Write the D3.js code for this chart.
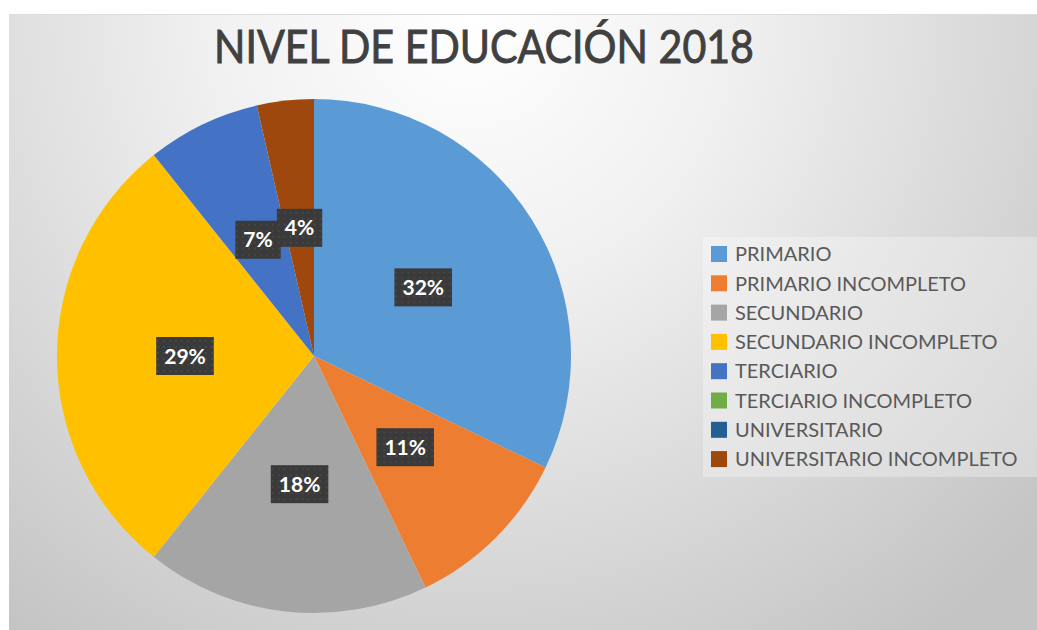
<!DOCTYPE html>
<html>
<head>
<meta charset="utf-8">
<script src="https://cdn.jsdelivr.net/npm/d3@7"></script>
<style>
    body { margin: 0; background: #fff; }
</style>
</head>
<body>
<svg id="chart" width="1037" height="630"></svg>
<script>
const titleText = 'NIVEL DE EDUCACIÓN 2018';
const categories = ['PRIMARIO', 'PRIMARIO INCOMPLETO', 'SECUNDARIO', 'SECUNDARIO INCOMPLETO',
    'TERCIARIO', 'TERCIARIO INCOMPLETO', 'UNIVERSITARIO', 'UNIVERSITARIO INCOMPLETO'];
const counts = [9, 3, 5, 8, 2, 0, 0, 1];
const colors = ['#5B9BD5', '#ED7D31', '#A5A5A5', '#FFC000', '#4472C4', '#70AD47', '#255E91', '#9E480E'];

const WIDTH = 1037, HEIGHT = 630;
const CENTER = {x: 314, y: 356};
const RADIUS = 257;

const svg = d3.select('#chart');
const defs = svg.append('defs');

// background gradient of the chart area
const grad = defs.append('radialGradient')
    .attr('id', 'bg')
    .attr('gradientUnits', 'userSpaceOnUse')
    .attr('cx', 470).attr('cy', 20).attr('r', 760);
grad.append('stop').attr('offset', '0%').attr('stop-color', '#ffffff');
grad.append('stop').attr('offset', '35%').attr('stop-color', '#f0f0f0');
grad.append('stop').attr('offset', '100%').attr('stop-color', '#c4c4c4');

// dotted texture for the label boxes
const pat = defs.append('pattern')
    .attr('id', 'dots')
    .attr('patternUnits', 'userSpaceOnUse')
    .attr('width', 6).attr('height', 6);
pat.append('rect').attr('width', 6).attr('height', 6).attr('fill', '#3a3a3a');
pat.append('circle').attr('cx', 3).attr('cy', 3).attr('r', 0.8).attr('fill', '#555');

svg.append('rect')
    .attr('x', 9).attr('y', 14)
    .attr('width', WIDTH - 9).attr('height', HEIGHT - 14)
    .attr('fill', 'url(#bg)');
svg.append('line')
    .attr('x1', 9).attr('x2', WIDTH).attr('y1', 14.5).attr('y2', 14.5)
    .attr('stroke', '#dcdcdc');

// title
svg.append('text')
    .attr('x', 484).attr('y', 63)
    .attr('text-anchor', 'middle')
    .attr('font-family', 'Lato, sans-serif')
    .attr('font-size', 46)
    .attr('fill', '#404040')
    .attr('stroke', '#404040')
    .attr('stroke-width', 0.9)
    .attr('textLength', 540)
    .attr('lengthAdjust', 'spacingAndGlyphs')
    .text(titleText);

// pie
const data = categories.map((c, i) => ({name: c, value: counts[i], color: colors[i]}));
const total = d3.sum(counts);

const pie = d3.pie().value(d => d.value).sort(null);
const arc = d3.arc().innerRadius(0).outerRadius(RADIUS);
const labelArc = d3.arc().innerRadius(129).outerRadius(129);
const arcs = pie(data);

const g = svg.append('g').attr('transform', `translate(${CENTER.x}, ${CENTER.y})`);

g.selectAll('path')
    .data(arcs.filter(d => d.data.value > 0))
    .join('path')
    .attr('d', arc)
    .attr('fill', d => d.data.color);

// data labels
const labels = g.selectAll('g.label')
    .data(arcs.filter(d => d.data.value > 0))
    .join('g')
    .attr('class', 'label')
    .attr('transform', d => `translate(${labelArc.centroid(d)})`);

labels.append('text')
    .attr('text-anchor', 'middle')
    .attr('dy', '0.36em')
    .attr('font-family', 'Lato, sans-serif')
    .attr('font-weight', 'bold')
    .attr('font-size', 21)
    .attr('fill', '#fff')
    .text(d => Math.round(d.data.value / total * 100) + '%');

labels.each(function () {
    const grp = d3.select(this);
    const bb = grp.select('text').node().getBBox();
    grp.insert('rect', 'text')
        .attr('x', bb.x - 8).attr('y', -19)
        .attr('width', bb.width + 16).attr('height', 38)
        .attr('fill', 'url(#dots)');
});

// legend
svg.append('rect')
    .attr('x', 703).attr('y', 237)
    .attr('width', WIDTH - 703).attr('height', 240)
    .attr('fill', '#fff').attr('opacity', 0.3);

const legend = svg.append('g').attr('transform', 'translate(711, 254)');
const rows = legend.selectAll('g')
    .data(data)
    .join('g')
    .attr('transform', (d, i) => `translate(0, ${i * 29.3})`);

rows.append('rect')
    .attr('x', 0).attr('y', -8)
    .attr('width', 16).attr('height', 16)
    .attr('fill', d => d.color);

rows.append('text')
    .attr('x', 24).attr('y', 0)
    .attr('dy', '0.36em')
    .attr('font-family', 'Lato, sans-serif')
    .attr('font-size', 20)
    .attr('fill', '#595959')
    .text(d => d.name);
</script>
</body>
</html>
